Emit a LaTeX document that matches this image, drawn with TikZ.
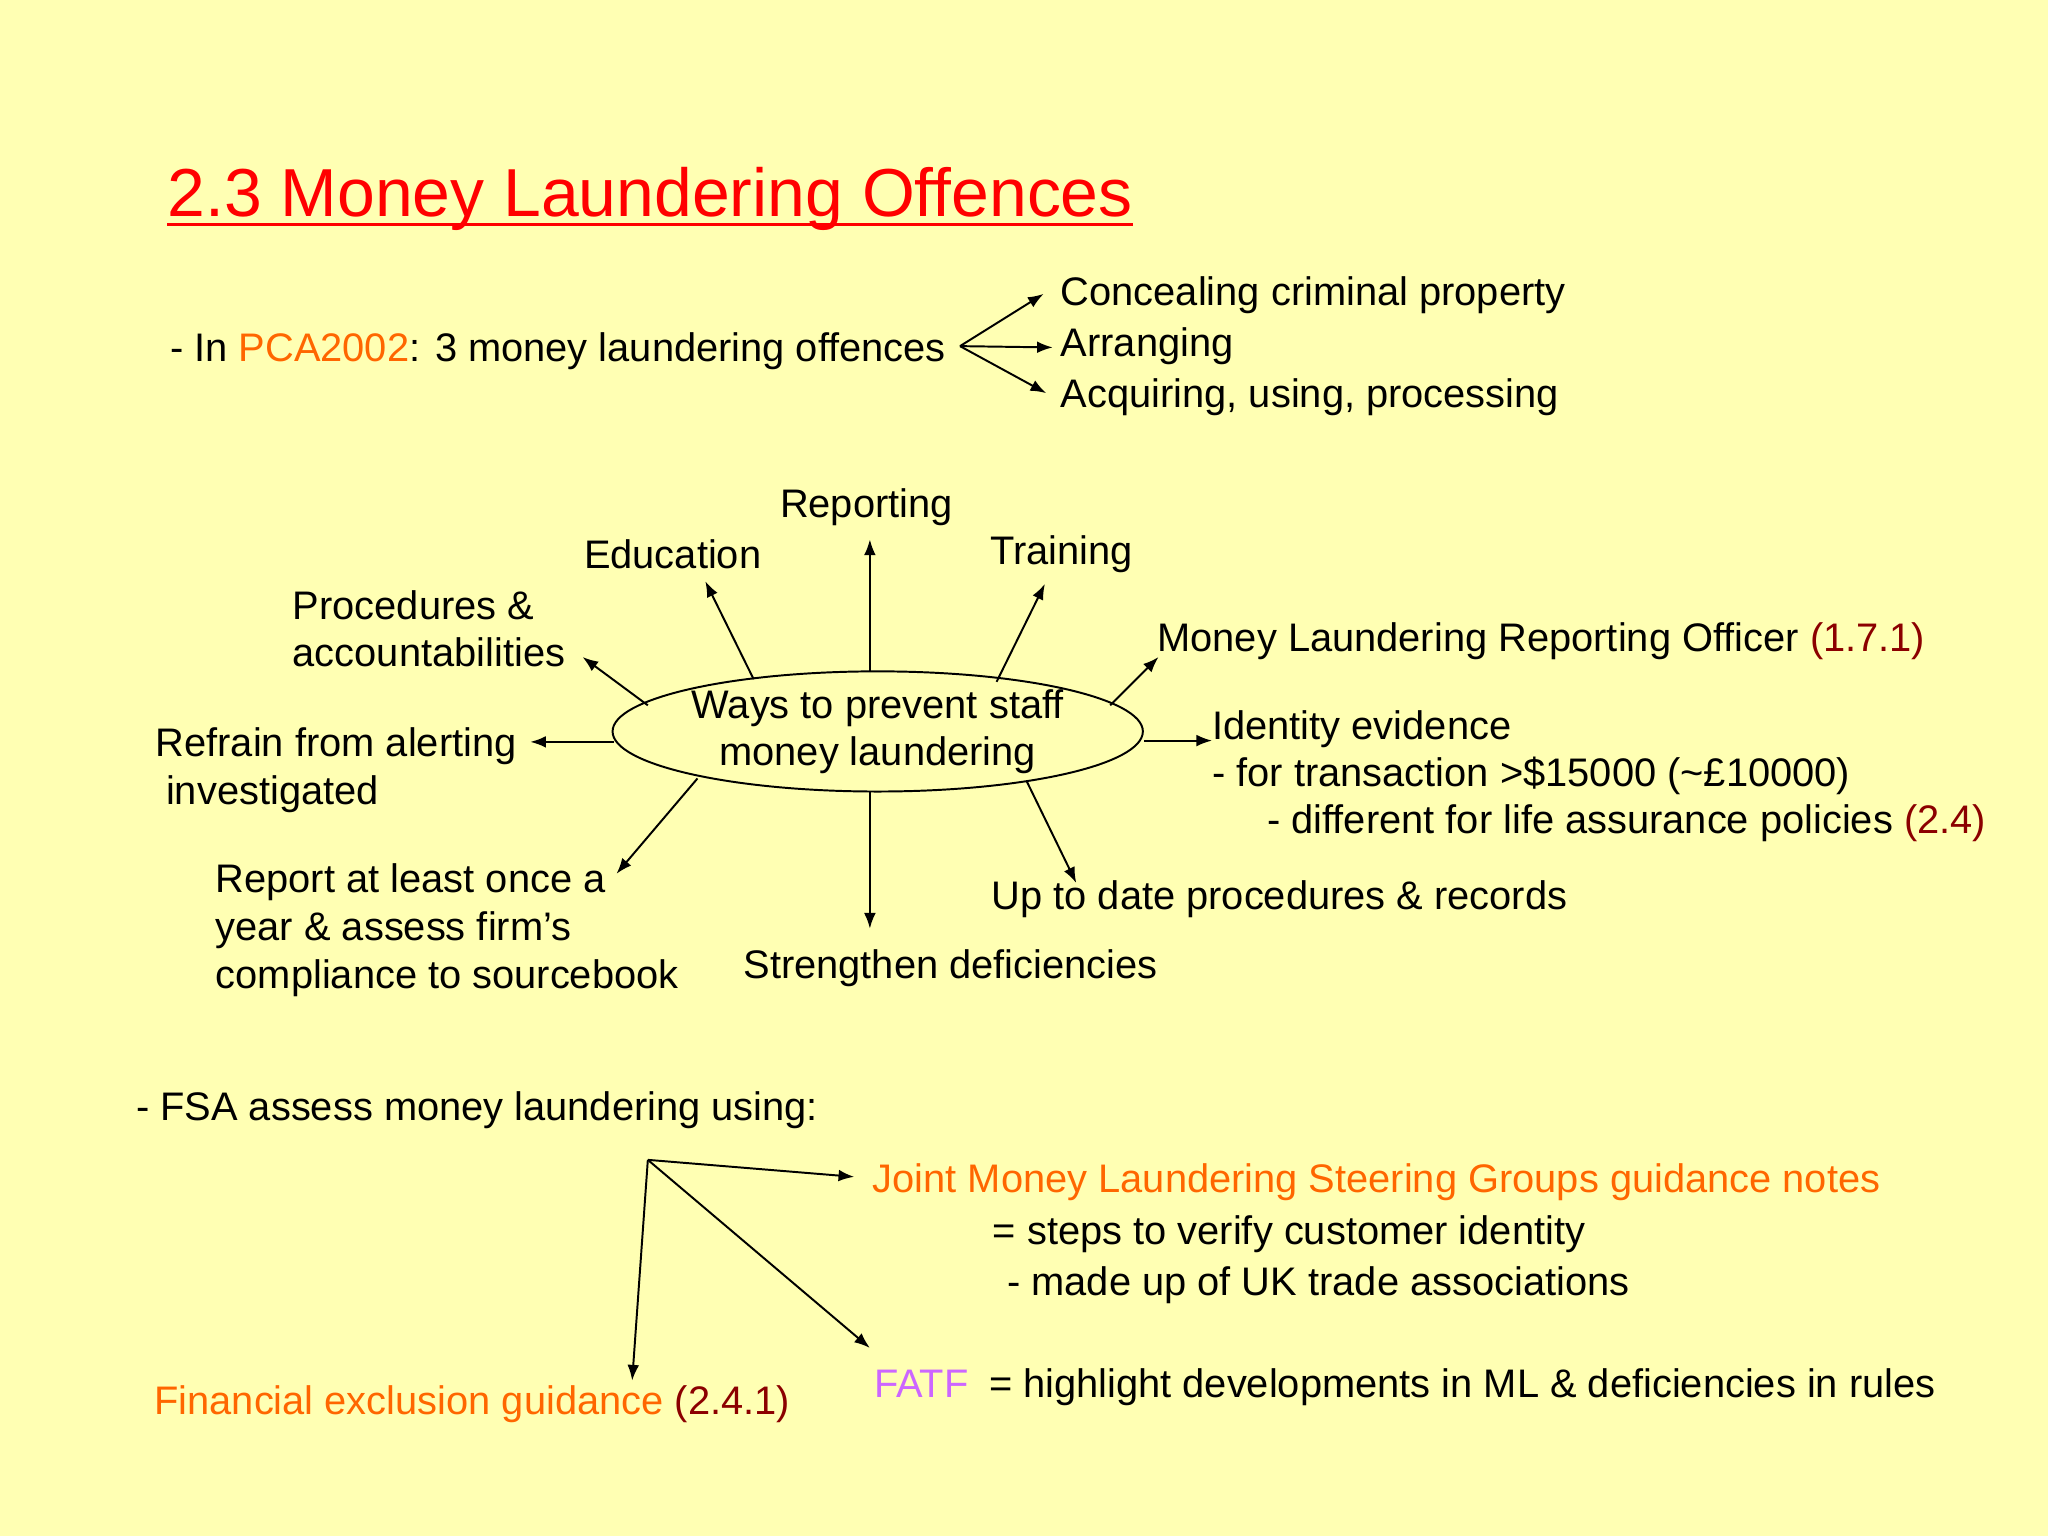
\documentclass[tikz,border=0pt]{standalone}
\usepackage{fontspec}
\setmainfont{Liberation Sans}
\usetikzlibrary{arrows.meta,shapes.geometric}
\definecolor{bg}{HTML}{FFFFB3}
\definecolor{orng}{HTML}{FF6600}
\definecolor{dred}{HTML}{8B0000}
\definecolor{viol}{HTML}{CC66FF}
\begin{document}
\begin{tikzpicture}[x=1pt,y=-1pt,
  t/.style={anchor=base west,inner sep=0pt,font=\fontsize{30.5}{36}\selectfont},
  ar/.style={line width=1.5pt,-{Latex[length=12pt,width=9pt]}}]
\fill[bg] (0,0) rectangle (1568,1176);
\useasboundingbox (0,0) rectangle (1568,1176);
\node[t,font=\fontsize{52}{60}\selectfont,text=red] (title) at (128,166) {2.3 Money Laundering Offences};
\draw[red,line width=2.5pt] (title.base west)++(0,6) -- ([yshift=-6pt]title.base east);
% PCA
\node[t] (pca) at (130,277) {- In \textcolor{orng}{PCA2002}: 3 money laundering offences};
\node[t] (c1) at (812,234) {Concealing criminal property};
\node[t] (c2) at (812,273) {Arranging};
\node[t] (c3) at (812,312) {Acquiring, using, processing};
\coordinate (p0) at (735,265);
\coordinate (p1) at (799,225); \coordinate (p2) at (806,266); \coordinate (p3) at (801,301);
\draw[ar] (p0)--(p1); \draw[ar] (p0)--(p2); \draw[ar] (p0)--(p3);
% ellipse
\node[draw,line width=1.5pt,ellipse,minimum width=406,minimum height=92,inner sep=0pt,align=center,font=\fontsize{30.5}{36}\selectfont] (e) at (672,560) {Ways to prevent staff\\money laundering};
\node[t] (rep) at (597,396) {Reporting};
\node[t] (edu) at (447,435) {Education};
\node[t] (tra) at (758,432) {Training};
\node[t] (pro1) at (224,474) {Procedures \&};
\node[t] (pro2) at (224,510) {accountabilities};
\node[t] (mlro) at (886,499) {Money Laundering Reporting Officer \textcolor{dred}{(1.7.1)}};
\node[t] (id1) at (928,566) {Identity evidence};
\node[t] (id2) at (928,602) {- for transaction >\$15000 (\textasciitilde£10000)};
\node[t] (id3) at (970,638) {- different for life assurance policies \textcolor{dred}{(2.4)}};
\node[t] (ref1) at (119,579) {Refrain from alerting};
\node[t] (ref2) at (127,616) {investigated};
\node[t] (ra1) at (165,683) {Report at least once a};
\node[t] (ra2) at (165,720) {year \& assess firm’s};
\node[t] (ra3) at (165,757) {compliance to sourcebook};
\node[t] (str) at (569,749) {Strengthen deficiencies};
\node[t] (upd) at (759,696) {Up to date procedures \& records};
\coordinate (a1) at (666,514); \coordinate (b1) at (666,413);
\coordinate (a2) at (577,520); \coordinate (b2) at (540,445);
\coordinate (a3) at (763,522); \coordinate (b3) at (800,447);
\coordinate (a4) at (496,540); \coordinate (b4) at (446,503);
\coordinate (a5) at (850,540); \coordinate (b5) at (887,503);
\coordinate (a6) at (876,567); \coordinate (b6) at (928,567);
\coordinate (a7) at (470,568); \coordinate (b7) at (406,568);
\coordinate (a8) at (534,596); \coordinate (b8) at (472,669);
\coordinate (a9) at (666,606); \coordinate (b9) at (666,711);
\coordinate (a10) at (786,598); \coordinate (b10) at (824,676);
\foreach \i in {1,...,10} {\draw[ar] (a\i)--(b\i);}
% FSA
\node[t] (fsa) at (104,858) {- FSA assess money laundering using:};
\node[t,text=orng] (jm) at (668,913) {Joint Money Laundering Steering Groups guidance notes};
\node[t] (jm2) at (760,953) {= steps to verify customer identity};
\node[t] (jm3) at (771,992) {- made up of UK trade associations};
\node[t,text=viol] (fatf) at (669,1070) {FATF};
\node[t] (fatf2) at (757,1070) {= highlight developments in ML \& deficiencies in rules};
\node[t,text=orng] (fin) at (118,1083) {Financial exclusion guidance \textcolor{dred}{(2.4.1)}};
\coordinate (f0) at (496,888);
\coordinate (f1) at (654,901); \coordinate (f2) at (666,1032); \coordinate (f3) at (484,1057);
\draw[ar] (f0)--(f1); \draw[ar] (f0)--(f2); \draw[ar] (f0)--(f3);
\end{tikzpicture}
\end{document}
